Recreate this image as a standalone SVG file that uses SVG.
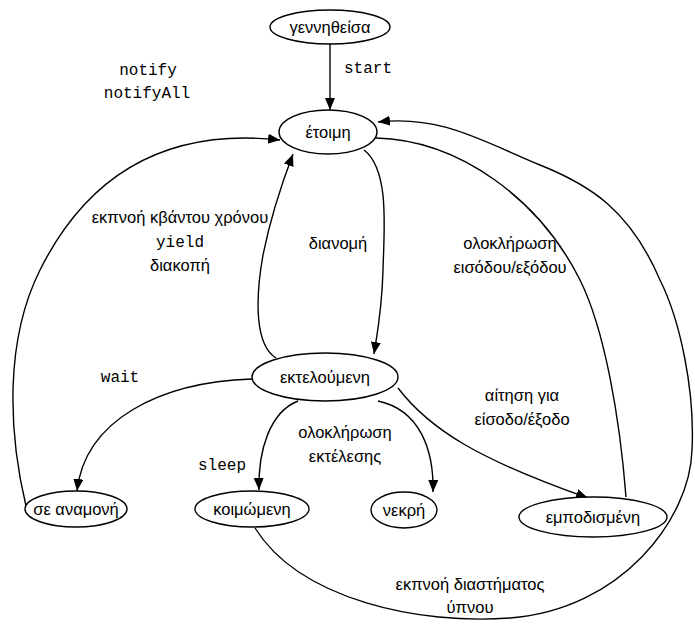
<svg xmlns="http://www.w3.org/2000/svg" width="695" height="624" viewBox="0 0 695 624">
<style>
.n{fill:#fff;stroke:#000;stroke-width:1.4}
.t{font-family:"Liberation Sans",Arial,sans-serif;font-size:16.5px;fill:#000;text-anchor:middle}
.m{font-family:"Liberation Mono","Courier New",monospace;font-size:16px;fill:#000;text-anchor:middle}
.e{fill:none;stroke:#000;stroke-width:1.4}
</style>
<defs>
<marker id="a" markerUnits="userSpaceOnUse" markerWidth="14" markerHeight="12" refX="12" refY="5" orient="auto">
<path d="M0,0 L12,5 L0,10 Z" fill="#000"/>
</marker>
</defs>
<rect width="695" height="624" fill="#fff"/>
<g id="edges">
<path class="e" d="M330,44 L330,110" marker-end="url(#a)"/>
<path class="e" d="M26,506 C 8,430 5,340 40,270 C 90,170 170,128 280,140" marker-end="url(#a)"/>
<path class="e" d="M276,358 C 255,345 255,300 263,255 C 272,210 285,175 293,154" marker-end="url(#a)"/>
<path class="e" d="M364,150 C 390,170 384,230 383,270 C 382,310 377,335 374,354" marker-end="url(#a)"/>
<path class="e" d="M376,138 C 460,140 540,200 580,280 C 605,330 620,420 626,497"/>
<path class="e" d="M255,528 C 300,600 420,625 510,618 C 620,610 690,520 692,450 C 695,390 680,320 660,280 C 630,210 590,185 540,165 C 480,140 440,115 378,122" marker-end="url(#a)"/>
<path class="e" d="M252,379 C 160,382 85,420 77,491" marker-end="url(#a)"/>
<path class="e" d="M298,401 C 270,412 258,450 259,490" marker-end="url(#a)"/>
<path class="e" d="M378,401 C 420,410 434,450 433,492" marker-end="url(#a)"/>
<path class="e" d="M398,388 C 430,430 480,460 588,498" marker-end="url(#a)"/>
</g>
<g id="labels">
<text class="m" x="368" y="73">start</text>
<text class="m" x="148" y="75">notify</text>
<text class="m" x="147" y="98">notifyAll</text>
<text class="t" x="180" y="223">εκπνοή κβάντου χρόνου</text>
<text class="m" x="180" y="247">yield</text>
<text class="t" x="180" y="271">διακοπή</text>
<text class="t" x="338" y="249">διανομή</text>
<text class="t" x="510" y="249">ολοκλήρωση</text>
<text class="t" x="510" y="273">εισόδου/εξόδου</text>
<text class="m" x="120" y="382">wait</text>
<text class="t" x="522" y="401">αίτηση για</text>
<text class="t" x="522" y="425">είσοδο/έξοδο</text>
<text class="t" x="345" y="438">ολοκλήρωση</text>
<text class="t" x="345" y="462">εκτέλεσης</text>
<text class="m" x="222" y="470">sleep</text>
<text class="t" x="470" y="590">εκπνοή διαστήματος</text>
<text class="t" x="470" y="613">ύπνου</text>
</g>
<g id="n-born"><ellipse class="n" cx="330" cy="27" rx="60" ry="17"/><text class="t" x="330" y="33">γεννηθείσα</text></g>
<g id="n-ready"><ellipse class="n" cx="328" cy="132" rx="49" ry="22"/><text class="t" x="328" y="138">έτοιμη</text></g>
<g id="n-running"><ellipse class="n" cx="325" cy="377" rx="73" ry="24"/><text class="t" x="325" y="383">εκτελούμενη</text></g>
<g id="n-waiting"><ellipse class="n" cx="76" cy="509" rx="51" ry="18"/><text class="t" x="76" y="515">σε αναμονή</text></g>
<g id="n-sleeping"><ellipse class="n" cx="252" cy="509" rx="57" ry="18"/><text class="t" x="252" y="515">κοιμώμενη</text></g>
<g id="n-dead"><ellipse class="n" cx="404" cy="510" rx="33" ry="18"/><text class="t" x="404" y="516">νεκρή</text></g>
<g id="n-blocked"><ellipse class="n" cx="593" cy="517" rx="74" ry="20"/><text class="t" x="593" y="523">εμποδισμένη</text></g>
</svg>
